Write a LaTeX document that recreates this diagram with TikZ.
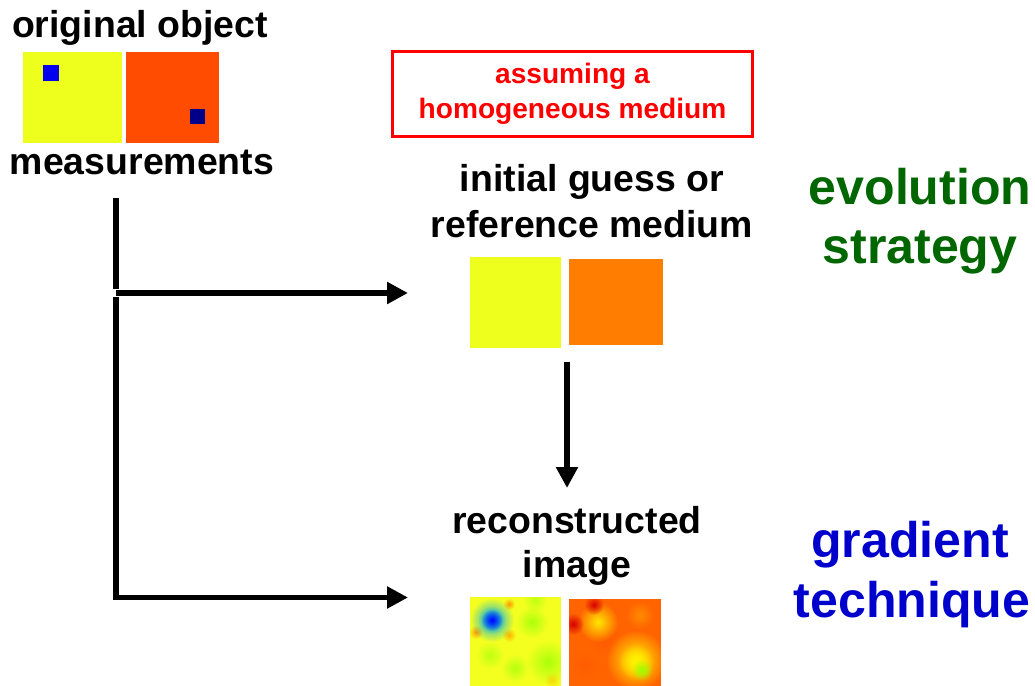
\documentclass[tikz,border=0pt]{standalone}
\usepackage{fontspec}
\setmainfont{Liberation Sans}
\usetikzlibrary{arrows.meta,fadings}
\definecolor{ylw}{HTML}{EEFF1E}
\definecolor{org}{HTML}{FF4C00}
\definecolor{org2}{HTML}{FF7D00}
\definecolor{blu}{HTML}{0000EE}
\definecolor{nvy}{HTML}{000088}
\definecolor{grn}{HTML}{006600}
\definecolor{tblue}{HTML}{0000CC}
\definecolor{recy}{HTML}{F4FF20}
\definecolor{reco}{HTML}{FF6400}
\tikzfading[name=spotfade, inner color=transparent!0, outer color=transparent!100]
\begin{document}
\begin{tikzpicture}[x=0.02cm,y=-0.02cm,
 lbl/.style={anchor=base, inner sep=0, font=\fontsize{21.3}{25}\selectfont\bfseries},
 redlbl/.style={anchor=base, inner sep=0, text=red, font=\fontsize{16}{19}\selectfont\bfseries},
 biglbl/.style={anchor=base, inner sep=0, font=\fontsize{28.5}{34}\selectfont\bfseries},
 conn/.style={line width=3.41pt},
 arr/.style={conn, -{Triangle[length=11.95pt,width=11.95pt]}},
 spot/.style={path fading=spotfade}
]
\useasboundingbox (0,0) rectangle (1035,686);

% original object
\node[lbl] (orig) at (140,38) {original object};
\fill[ylw] (23,52) rectangle (122,143);
\fill[org] (126,52) rectangle (219,143);
\fill[blu] (43,65) rectangle (59,81);
\fill[nvy] (190,109) rectangle (205,124);
\node[lbl] (meas) at (142,174) {measurements};

% red box
\node[draw=red, line width=1.7pt, minimum width=7.22cm, minimum height=1.72cm, inner sep=0] (box) at (572.5,94) {};
\node[redlbl] (ass1) at (572.5,84) {assuming a};
\node[redlbl] (ass2) at (572.5,119) {homogeneous medium};

% initial guess
\node[lbl] (ig1) at (592,192) {initial guess or};
\node[lbl] (ig2) at (592,237) {reference medium};
\fill[ylw] (470,257) rectangle (561,348);
\fill[org2] (569,259) rectangle (663,345);

% reconstructed
\node[lbl] (rc1) at (577,533) {reconstructed};
\node[lbl] (rc2) at (577,577) {image};

\begin{scope}
\clip (470,597) rectangle (561,686);
\fill[recy] (470,597) rectangle (561,686);
\fill[green!45!yellow, spot, opacity=0.7] (532,622) circle (16);
\fill[green!45!yellow, spot, opacity=0.7] (548,662) circle (22);
\fill[green!45!yellow, spot, opacity=0.6] (515,668) circle (14);
\fill[green!45!yellow, spot, opacity=0.5] (490,655) circle (14);
\fill[green!45!yellow, spot, opacity=0.5] (535,600) circle (12);
\fill[orange!80!yellow, spot] (476,632) circle (7);
\fill[orange!80!yellow, spot] (509,604) circle (6);
\fill[orange!60!yellow, spot] (509,635) circle (7);
\fill[orange!50!yellow, spot, opacity=0.6] (552,680) circle (8);
\fill[cyan, spot] (492,620) circle (22);
\fill[cyan, spot] (492,620) circle (14);
\fill[blue, spot] (492,620) circle (11);
\end{scope}

\begin{scope}
\clip (569,599) rectangle (661,686);
\fill[reco] (569,599) rectangle (661,686);
\fill[orange!70!red, spot, opacity=0.7] (605,640) circle (16);
\fill[orange!70!red, spot, opacity=0.6] (585,665) circle (14);
\fill[yellow!90!orange, spot] (598,622) circle (20);
\fill[red!85!black, spot] (594,605) circle (10);
\fill[red!85!black, spot] (573,624) circle (11);
\fill[yellow, spot] (636,660) circle (30);
\fill[yellow, spot] (636,662) circle (18);
\fill[green!40!yellow, spot] (642,670) circle (11);
\fill[orange!60!yellow, spot, opacity=0.5] (640,615) circle (14);
\end{scope}

% right labels
\node[biglbl, text=grn] (ev1) at (920,204) {evolution};
\node[biglbl, text=grn] (ev2) at (920,263) {strategy};
\node[biglbl, text=tblue] (gt1) at (910,557) {gradient};
\node[biglbl, text=tblue] (gt2) at (912,617) {technique};

% connectors
\coordinate (v1a) at (116,198);
\coordinate (v1b) at (116,289);
\coordinate (h1a) at (116,293);
\coordinate (h1b) at (408,293);
\coordinate (v2a) at (116,297);
\coordinate (h2b) at (408,597.5);
\coordinate (dna) at (567,362);
\coordinate (dnb) at (567,488);
\draw[conn] (v1a) -- (v1b);
\draw[arr] (h1a) -- (h1b);
\draw[arr] (v2a) |- (h2b);
\draw[arr] (dna) -- (dnb);
\end{tikzpicture}
\end{document}
